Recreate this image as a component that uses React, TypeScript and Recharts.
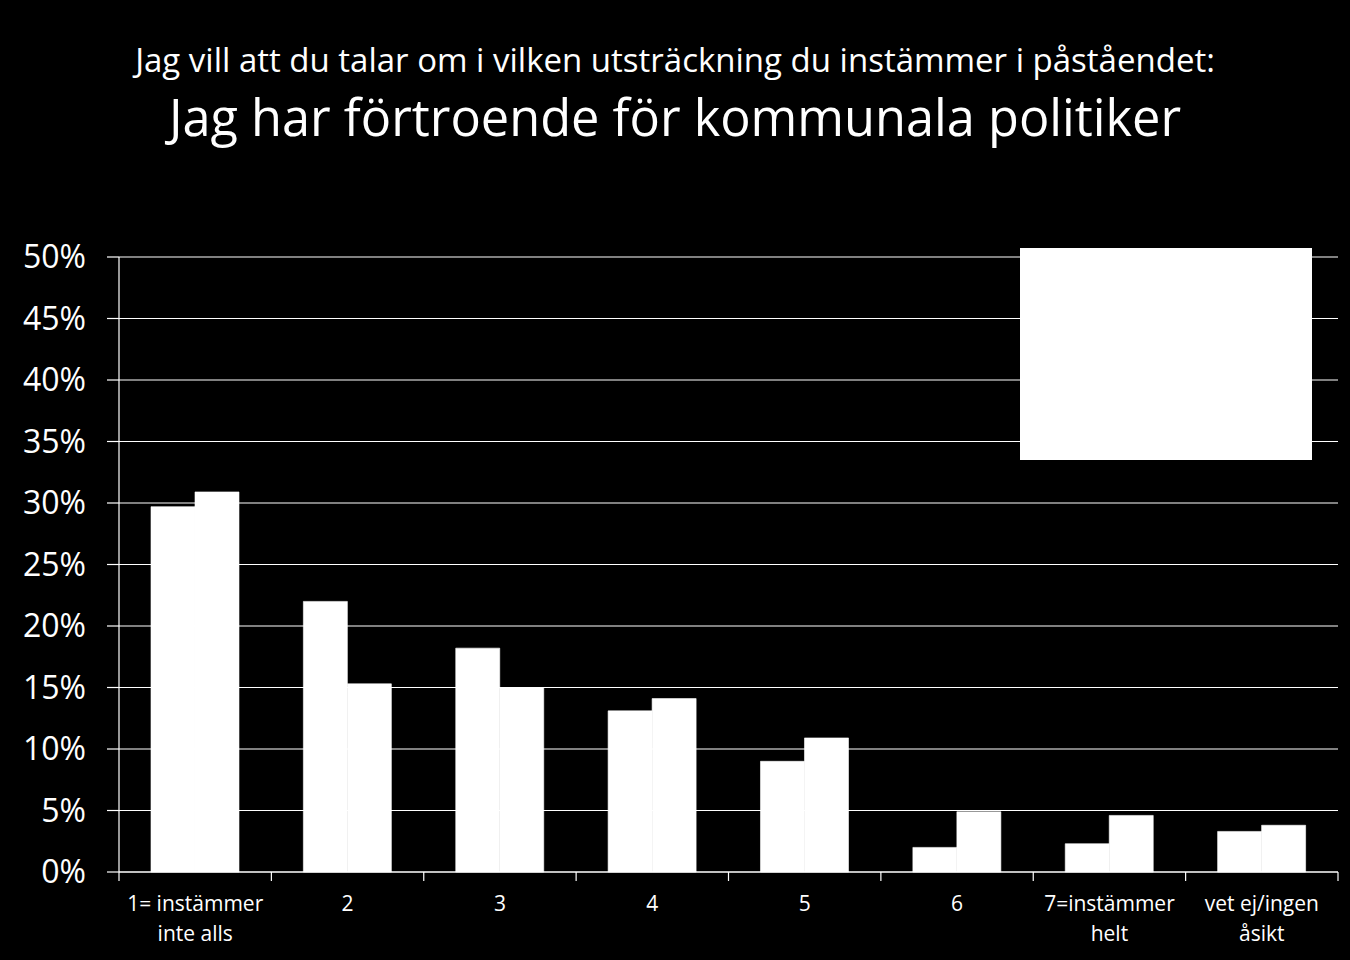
import { BarChart, Bar, XAxis, YAxis, CartesianGrid } from "recharts";

const CATEGORIES = ["1= instämmer\ninte alls", "2", "3", "4", "5", "6", "7=instämmer\nhelt", "vet ej/ingen\nåsikt"];
const SERIES_NAMES = ["2011", "2014"];
const SERIES_A = [29.7, 22.0, 18.2, 13.1, 9.0, 2.0, 2.3, 3.3];
const SERIES_B = [30.9, 15.3, 15.0, 14.1, 10.9, 4.9, 4.6, 3.8];
const Y_TICKS = [0, 5, 10, 15, 20, 25, 30, 35, 40, 45, 50];

const data = CATEGORIES.map((name, i) => ({ name, a: SERIES_A[i], b: SERIES_B[i] }));

const FONT = "'Open Sans', sans-serif";
const BAND = (1338 - 119) / CATEGORIES.length;

function XTick({ x, y, payload, index }: any) {
  const lines = String(payload.value).split("\n");
  const top = y - 8;
  return (
    <g>
      <line x1={x - BAND / 2} x2={x - BAND / 2} y1={top} y2={top + 9} stroke="#fff" strokeWidth={1.2} />
      {index === CATEGORIES.length - 1 && (
        <line x1={x + BAND / 2} x2={x + BAND / 2} y1={top} y2={top + 9} stroke="#fff" strokeWidth={1.2} />
      )}
      <text x={x} y={top + 39} textAnchor="middle" fill="#fff" fontSize={21} fontFamily={FONT}>
        {lines.map((l, i) => (
          <tspan key={i} x={x} dy={i === 0 ? 0 : 30}>
            {l}
          </tspan>
        ))}
      </text>
    </g>
  );
}

export default function App() {
  return (
    <div style={{ position: "absolute", left: 0, top: 0, width: 1350, height: 960, background: "#000", overflow: "hidden" }}>
      <div style={{ position: "absolute", top: 38, left: 0, width: 1350, textAlign: "center", color: "#fff", fontFamily: FONT, fontSize: 33, lineHeight: "44px" }}>
        Jag vill att du talar om i vilken utsträckning du instämmer i påståendet:
      </div>
      <div style={{ position: "absolute", top: 84, left: 0, width: 1350, textAlign: "center", color: "#fff", fontFamily: FONT, fontSize: 50.5, lineHeight: "66px" }}>
        Jag har förtroende för kommunala politiker
      </div>
      <BarChart
        width={1350}
        height={960}
        data={data}
        margin={{ top: 257, right: 12, bottom: 0, left: 0 }}
        barCategoryGap="21%"
        barGap={0}
      >
        <CartesianGrid vertical={false} stroke="#fff" strokeWidth={1.2} />
        <XAxis
          dataKey="name"
          height={88}
          stroke="#fff"
          strokeWidth={1.2}
          tickLine={false}
          tick={<XTick />}
          interval={0}
        />
        <YAxis
          width={119}
          domain={[0, 50]}
          ticks={Y_TICKS}
          interval={0}
          tickFormatter={(v) => `${v}%`}
          stroke="#fff"
          strokeWidth={1.2}
          tickSize={12}
          tickMargin={21}
          tick={{ fill: "#fff", fontSize: 32, fontFamily: FONT }}
        />
        <Bar dataKey="a" name={SERIES_NAMES[0]} fill="#fff" stroke="#fff" strokeWidth={0.6} isAnimationActive={false} />
        <Bar dataKey="b" name={SERIES_NAMES[1]} fill="#fff" stroke="#fff" strokeWidth={0.6} isAnimationActive={false} />
      </BarChart>
      <div style={{ position: "absolute", left: 1020, top: 248, width: 292, height: 212, background: "#fff", display: "flex", flexDirection: "column", justifyContent: "center", paddingLeft: 20, boxSizing: "border-box", color: "#fff", fontFamily: FONT, fontSize: 22 }}>
        {SERIES_NAMES.map((n) => (
          <div key={n}>{n}</div>
        ))}
      </div>
    </div>
  );
}
